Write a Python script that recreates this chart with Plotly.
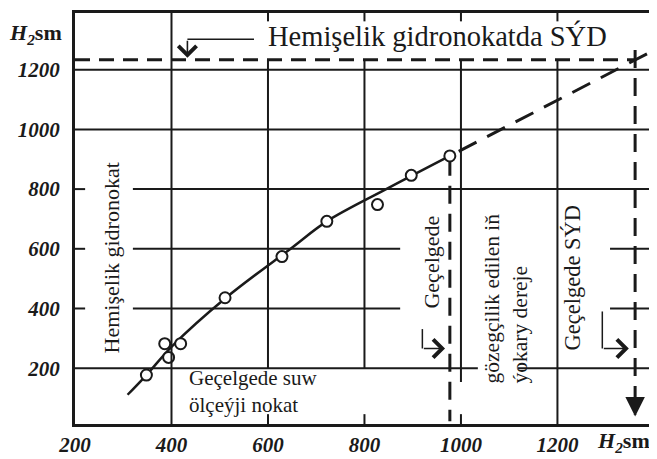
import plotly.graph_objects as go

# ---- data ----
x_ticks = [200, 400, 600, 800, 1000, 1200]
y_ticks = [200, 400, 600, 800, 1000, 1200]

obs_x = [348, 386, 394, 419, 511, 629, 722, 827, 897, 977]
obs_y = [177, 282, 236, 282, 436, 574, 692, 748, 846, 911]

curve_x = [309, 348, 402, 513, 649, 722, 849, 977]
curve_y = [111, 177, 275, 436, 603, 692, 803, 911]

extrap_x = [977, 1396]
extrap_y = [911, 1262]

level_syd = 1233        # Hemişelik gidronokatda SÝD
level_x_syd = 1361      # Geçelgede SÝD
max_obs_x = 977         # gözegçilik edilen iň ýokary dereje

XR = [200, 1396]
YR = [13, 1390]

INK = "#1a1a1a"
SERIF = "Liberation Serif"

fig = go.Figure()

# grid segments (partial, as in the drawing)
vseg = [
    (400, 13, 1397),
    (600, 1362, 1397), (600, 200, level_syd), (600, 13, 46),
    (800, 1362, 1397), (800, 200, level_syd), (800, 13, 46),
    (1000, 1362, 1397), (1000, 154, level_syd), (1000, 13, 46),
    (1200, 1362, 1397), (1200, 13, level_syd),
]
hseg = [
    (1200, 200, 1396), (1000, 200, 1396),
    (800, 200, 221), (800, 320, 1396),
    (600, 200, 221), (600, 320, 874), (600, 1309, 1396),
    (400, 200, 221), (400, 320, 874), (400, 1309, 1396),
    (200, 200, 1035), (200, 1118, 1396),
]
for xv, y0, y1 in vseg:
    fig.add_shape(type="line", x0=xv, x1=xv, y0=y0, y1=y1, xref="x", yref="y",
                  line=dict(color=INK, width=2))
for yv, x0, x1 in hseg:
    fig.add_shape(type="line", x0=x0, x1=x1, y0=yv, y1=yv, xref="x", yref="y",
                  line=dict(color=INK, width=2))

# dashed horizontal SÝD level
fig.add_trace(go.Scatter(x=[XR[0], level_x_syd], y=[level_syd, level_syd], mode="lines",
                         line=dict(color=INK, width=3, dash="15px,9px"), hoverinfo="skip"))
# dashed vertical at SÝD
fig.add_trace(go.Scatter(x=[level_x_syd, level_x_syd], y=[1266, 45], mode="lines",
                         line=dict(color=INK, width=3, dash="18px,10px"), hoverinfo="skip"))
# dashed vertical at max observed
fig.add_trace(go.Scatter(x=[max_obs_x, max_obs_x], y=[905, 22], mode="lines",
                         line=dict(color=INK, width=3, dash="18px,10px"), hoverinfo="skip"))
# extrapolation
fig.add_trace(go.Scatter(x=extrap_x, y=extrap_y, mode="lines",
                         line=dict(color=INK, width=3, dash="0px,10px,20px,2px"), hoverinfo="skip"))
# fitted curve
fig.add_trace(go.Scatter(x=curve_x, y=curve_y, mode="lines", line_shape="spline",
                         line=dict(color=INK, width=2.5), hoverinfo="skip"))
# observations
fig.add_trace(go.Scatter(x=obs_x, y=obs_y, mode="markers",
                         marker=dict(symbol="circle", size=11, color="white",
                                     line=dict(color=INK, width=2)), hoverinfo="skip"))

# leader lines for labels
fig.add_trace(go.Scatter(x=[571, 433], y=[1302, 1302], mode="lines",
                         line=dict(color=INK, width=1.5), hoverinfo="skip"))
fig.add_trace(go.Scatter(x=[920, 920], y=[331, 266], mode="lines",
                         line=dict(color=INK, width=1.5), hoverinfo="skip"))
fig.add_trace(go.Scatter(x=[1293, 1293], y=[390, 266], mode="lines",
                         line=dict(color=INK, width=1.5), hoverinfo="skip"))

ann = []
def arrow(x, y, ax, ay, head, w, s):
    ann.append(dict(x=x, y=y, ax=ax, ay=ay, xref="x", yref="y", axref="x", ayref="y",
                    text="", showarrow=True, arrowhead=head, arrowwidth=w, arrowsize=s,
                    arrowcolor=INK, standoff=0))

arrow(433, 1240, 433, 1302, 4, 1.6, 2.2)
arrow(1159, level_syd, 1150, level_syd, 2, 2.5, 1.5)
arrow(level_x_syd, 38, level_x_syd, 60, 2, 3, 1.3)
arrow(967, 266, 920, 266, 4, 1.6, 2.2)
arrow(1348, 266, 1293, 266, 4, 1.6, 2.2)

def txt(x, y, s, size, angle=0, xanchor="center", yanchor="middle", align="center"):
    ann.append(dict(x=x, y=y, xref="x", yref="y", text=s, showarrow=False,
                    textangle=angle, xanchor=xanchor, yanchor=yanchor, align=align,
                    font=dict(family=SERIF, size=size, color=INK)))

txt(596, 1312, "Hemişelik gidronokatda SÝD", 28.5, xanchor="left")
txt(276, 570, "Hemişelik gidronokat", 22, angle=-90)
txt(433, 122, "Geçelgede suw<br>ölçeýji nokat", 21, xanchor="left", align="left")
txt(940, 554, "Geçelgede", 22, angle=-90)
txt(1093, 433, "gözegçilik edilen iň<br>ýokary dereje", 21.5, angle=-90, align="left")
txt(1231, 505, "Geçelgede SÝD", 22.5, angle=-90)

axis_title = "<b><i>H</i><sub><i>2</i></sub>sm</b>"
ann.append(dict(x=-0.069, y=0.948, xref="paper", yref="paper", showarrow=False,
                xanchor="center", yanchor="middle", text=axis_title,
                font=dict(family=SERIF, size=22, color=INK)))
ann.append(dict(x=1.0, y=-0.045, xref="paper", yref="paper", showarrow=False,
                xanchor="right", yanchor="middle", text=axis_title,
                font=dict(family=SERIF, size=22, color=INK)))

tickfont = dict(family=SERIF, size=21, color=INK)

# page body has an 8px margin: size and offset the figure so the plot frame
# lands where the reference has it inside the 657x459 window
fig.update_layout(
    width=649, height=451,
    margin=dict(l=67, r=2, t=2, b=29),
    paper_bgcolor="white", plot_bgcolor="white",
    showlegend=False,
    annotations=ann,
    xaxis=dict(range=XR, tickvals=x_ticks,
               ticktext=[f"<b><i>{v}</i></b>" for v in x_ticks],
               showgrid=False, zeroline=False, showline=True, linewidth=3,
               linecolor=INK, mirror=True, ticks="", tickfont=tickfont),
    yaxis=dict(range=YR, tickvals=y_ticks,
               ticktext=[f"<b><i>{v}</i></b>" for v in y_ticks],
               showgrid=False, zeroline=False, showline=True, linewidth=3,
               linecolor=INK, mirror=True, ticks="", ticklabelstandoff=8,
               tickfont=tickfont),
)

fig.write_html("out.html")
